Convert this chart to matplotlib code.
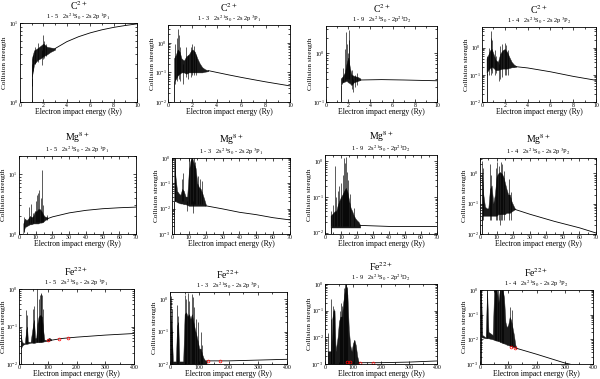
import matplotlib
matplotlib.use("Agg")
import matplotlib.pyplot as plt
from matplotlib.ticker import LogLocator, NullFormatter, MultipleLocator, AutoMinorLocator

plt.rcParams['font.family'] = ['Liberation Serif', 'DejaVu Serif']
plt.rcParams['mathtext.fontset'] = 'stix'

# --- labels ---
ions = [r'C$^{2+}$'] * 4 + [r'Mg$^{8+}$'] * 4 + [r'Fe$^{22+}$'] * 4
trans_one = [r'1 - 5   2s$^{2\,1}$S$_{0}$ - 2s 2p $^{1}$P$_{1}$',
             r'1 - 3   2s$^{2\,1}$S$_{0}$ - 2s 2p $^{3}$P$_{1}$',
             r'1 - 9   2s$^{2\,1}$S$_{0}$ - 2p$^{2\,1}$D$_{2}$',
             r'1 - 4   2s$^{2\,1}$S$_{0}$ - 2s 2p $^{3}$P$_{2}$']
trans = trans_one * 3

# --- axis ranges ---
xmax = [10] * 4 + [70] * 4 + [400] * 4
xstep = [2] * 4 + [10] * 4 + [100] * 4
ylims = [(1, 10), (0.01, 4), (0.1, 3.5), (0.01, 5.8),
         (1, 20), (1e-3, 1), (0.0092, 1.5), (0.01, 3.2),
         (0.01, 1), (0.01, 1.7), (1e-3, 1), (1e-3, 1)]

# --- threshold energies (Ry) ---
thr = [1.0, 0.5, 1.33, 0.4, 2.6, 1.3, 3.5, 1.3, 6, 2, 10, 2]

# --- smooth background above the resonance region ---
bg_e = [[3.0, 4, 5, 6, 7, 8, 9, 10],
        [3.3, 4, 5, 6, 7, 8, 9, 10],
        [3.1, 5, 7, 10],
        [3.0, 4, 6, 8, 10],
        [17, 20, 30, 40, 50, 60, 70],
        [20, 30, 40, 50, 60, 70],
        [22, 40, 70],
        [21, 30, 45, 60, 70],
        [112, 150, 200, 300, 400],
        [125, 200, 300, 400],
        [120, 200, 300, 400],
        [130, 200, 300, 400]]
bg_v = [[4.75, 5.8, 6.7, 7.5, 8.2, 8.8, 9.3, 9.75],
        [0.115, 0.1, 0.082, 0.068, 0.057, 0.048, 0.041, 0.035],
        [0.28, 0.285, 0.28, 0.27],
        [0.2, 0.18, 0.13, 0.088, 0.063],
        [1.8, 1.93, 2.25, 2.48, 2.64, 2.74, 2.81],
        [0.013, 0.0098, 0.0072, 0.0058, 0.0044, 0.0036],
        [0.016, 0.015, 0.015],
        [0.065, 0.045, 0.026, 0.016, 0.0108],
        [0.043, 0.048, 0.052, 0.059, 0.065],
        [0.0125, 0.0125, 0.0132, 0.014],
        [0.00112, 0.00112, 0.00118, 0.0013],
        [0.0043, 0.0025, 0.0011, 0.0006]]

# --- dense resonance band (energy, lower and upper envelope) ---
band_e = [[1.0, 1.2, 1.5, 1.8, 2.0, 2.3, 2.6, 3.0],
          [0.5, 0.65, 0.8, 0.95, 1.1, 1.3, 1.5, 1.7, 1.9, 2.0, 2.2, 2.4, 2.6, 2.8, 3.0, 3.3],
          [1.33, 1.5, 1.7, 1.85, 2.0, 2.15, 2.3, 2.5, 2.7, 2.9, 3.1],
          [0.4, 0.55, 0.7, 0.85, 1.0, 1.2, 1.4, 1.6, 1.8, 2.0, 2.2, 2.4, 2.6, 2.8, 3.0],
          [2.6, 3.5, 4.5, 5.5, 6.5, 7.5, 8.5, 9.5, 10.5, 11.5, 12.5, 13.5, 14.5, 15.5, 17],
          [1.3, 2, 3, 4, 5, 6, 7, 8, 9, 10, 11, 12, 13, 14, 15, 16, 17, 18, 19, 20],
          [3.5, 5, 6, 7, 8, 9, 10, 11, 12, 13, 14, 15, 16, 17, 18, 19, 20, 21, 22],
          [1.3, 2, 3, 4, 5, 6, 7, 8, 9, 10, 11, 12, 13, 14, 15, 16, 17, 18, 19, 20, 21],
          [6, 10, 15, 20, 25, 28, 31, 40, 48, 52, 56, 60, 64, 68, 72, 76, 80, 84, 88, 95, 105, 112],
          [2, 6, 10, 20, 24, 28, 32, 45, 50, 55, 60, 65, 70, 75, 80, 85, 90, 95, 100, 105, 110, 115, 120, 125],
          [10, 14, 18, 22, 26, 30, 34, 38, 45, 50, 55, 60, 65, 70, 75, 80, 85, 90, 95, 100, 105, 110, 115, 120],
          [2, 5, 8, 20, 25, 30, 45, 50, 55, 60, 65, 70, 75, 80, 85, 90, 95, 100, 105, 110, 115, 120, 125, 130]]
band_lo = [[2.0, 3.0, 3.4, 3.6, 3.8, 4.0, 4.3, 4.6],
           [0.05, 0.06, 0.08, 0.09, 0.1, 0.1, 0.09, 0.1, 0.1, 0.1, 0.1, 0.1, 0.1, 0.1, 0.105, 0.11],
           [0.22, 0.25, 0.26, 0.27, 0.25, 0.24, 0.22, 0.25, 0.26, 0.27, 0.28],
           [0.12, 0.15, 0.18, 0.2, 0.18, 0.15, 0.15, 0.16, 0.17, 0.17, 0.17, 0.18, 0.19, 0.19, 0.2],
           [1.05, 1.3, 1.35, 1.4, 1.45, 1.45, 1.5, 1.5, 1.5, 1.5, 1.55, 1.55, 1.6, 1.7, 1.8],
           [0.02, 0.02, 0.018, 0.017, 0.016, 0.016, 0.015, 0.015, 0.014, 0.013,
            0.013, 0.013, 0.013, 0.013, 0.013, 0.013, 0.013, 0.013, 0.013, 0.013],
           [0.014] * 19,
           [0.04, 0.04, 0.04, 0.04, 0.04, 0.04, 0.04, 0.04, 0.04, 0.04, 0.045,
            0.045, 0.045, 0.045, 0.045, 0.05, 0.05, 0.05, 0.055, 0.06, 0.065],
           [0.025, 0.03, 0.033, 0.034, 0.035, 0.035, 0.035, 0.037, 0.037, 0.037, 0.037,
            0.038, 0.038, 0.038, 0.038, 0.039, 0.039, 0.04, 0.04, 0.041, 0.042, 0.043],
           [0.0101] * 24,
           [0.00102] * 24,
           [0.013, 0.012, 0.012, 0.011, 0.011, 0.011, 0.01, 0.0095, 0.009, 0.0088, 0.0085, 0.008,
            0.0075, 0.007, 0.0068, 0.0065, 0.006, 0.0058, 0.0055, 0.0052, 0.005, 0.0048, 0.0045, 0.0043]]
band_hi = [[3.5, 4.5, 4.8, 5.2, 5.5, 5.0, 4.9, 4.8],
           [0.3, 0.4, 0.6, 0.5, 0.3, 0.25, 0.35, 0.4, 0.55, 0.6, 0.5, 0.3, 0.2, 0.15, 0.13, 0.115],
           [0.3, 0.33, 0.4, 0.6, 0.8, 0.5, 0.36, 0.34, 0.33, 0.32, 0.3],
           [0.4, 0.55, 0.8, 0.9, 0.6, 0.35, 0.3, 0.6, 0.8, 0.9, 0.7, 0.45, 0.3, 0.24, 0.21],
           [1.5, 1.8, 1.7, 1.8, 2.0, 1.9, 2.0, 2.4, 2.4, 2.6, 2.6, 2.4, 2.1, 1.95, 1.9],
           [1.0, 0.2, 0.05, 0.04, 0.035, 0.06, 0.05, 0.03, 0.03, 0.3,
            0.8, 1.0, 0.6, 0.4, 0.1, 0.07, 0.06, 0.04, 0.025, 0.015],
           [0.03, 0.035, 0.04, 0.04, 0.06, 0.08, 0.1, 0.12, 0.15, 0.18,
            0.14, 0.08, 0.05, 0.04, 0.03, 0.025, 0.022, 0.02, 0.016],
           [1.0, 0.2, 0.08, 0.07, 0.07, 0.3, 0.4, 0.1, 0.2, 0.8, 1.0,
            1.1, 1.0, 0.8, 0.5, 0.3, 0.2, 0.2, 0.12, 0.09, 0.07],
           [0.06, 0.04, 0.036, 0.036, 0.08, 0.1, 0.04, 0.038, 0.1, 0.15, 0.05,
            0.05, 0.12, 0.18, 0.2, 0.2, 0.18, 0.08, 0.045, 0.043, 0.05, 0.046],
           [0.3, 0.1, 0.012, 0.012, 0.15, 0.2, 0.012, 0.012, 0.35, 0.4, 0.3, 0.35,
            0.25, 0.35, 0.2, 0.12, 0.08, 0.05, 0.03, 0.03, 0.02, 0.015, 0.013, 0.0125],
           [0.003, 0.003, 0.003, 0.003, 0.05, 0.1, 0.1, 0.003, 0.01, 0.04, 0.06, 0.06,
            0.2, 0.5, 1.0, 0.4, 0.02, 0.005, 0.003, 0.006, 0.008, 0.005, 0.002, 0.0012],
           [1.0, 0.3, 0.015, 0.012, 1.0, 0.02, 0.015, 1.0, 1.0, 1.0, 0.3, 1.0,
            1.0, 1.0, 0.5, 0.05, 0.03, 0.04, 0.08, 0.06, 0.03, 0.015, 0.006, 0.0045]]

# --- isolated resonance spikes (energy, bottom, top) ---
spk_e = [[1.05, 1.1, 1.3, 1.55, 1.9, 2.0, 2.05, 2.2],
         [0.6, 0.75, 0.82, 0.88, 1.0, 1.2, 1.45, 1.6, 1.85, 2.0, 2.1, 2.3],
         [1.55, 1.7, 1.78, 1.85, 1.95, 2.05, 2.1, 2.3, 2.4, 2.6, 2.8],
         [0.45, 0.6, 0.75, 0.82, 0.9, 1.1, 1.25, 1.45, 1.6, 1.75, 2.0, 2.1, 2.3],
         [3.2, 6.0, 7.0, 8.2, 10.0, 10.8, 11.5, 12.2, 13.0, 13.6, 14.2, 16.5],
         [1.5, 1.8, 6.2, 6.6, 9.0, 10.2, 11, 12, 12.5, 13, 13.6, 15.5, 16.5, 17.5],
         [4.0, 5.2, 6.0, 7.0, 8.0, 9.0, 10.0, 11.0, 12.0, 12.5, 13.0, 13.5, 14.5, 15.5, 18],
         [1.5, 1.8, 6.2, 6.8, 9.5, 10.5, 11.5, 12.0, 12.5, 13.5, 14.5, 17.5, 18.5],
         [6, 26, 29, 50, 52, 62, 70, 73, 76, 78, 80, 82],
         [3, 6, 25, 27, 52, 55, 62, 65, 75, 78, 82, 90, 95, 105, 110],
         [12, 20, 22, 30, 32, 52, 56, 60, 68, 72, 76, 79, 104],
         [3, 25, 52, 57, 62, 72, 78, 83, 105, 112]]
spk_lo = [[1.6, 2.5, 3.0, 3.2, 2.9, 3.5, 3.6, 3.8],
          [0.04, 0.05, 0.08, 0.06, 0.05, 0.04, 0.07, 0.06, 0.07, 0.08, 0.08, 0.08],
          [0.25, 0.28, 0.3, 0.3, 0.3, 0.3, 0.3, 0.18, 0.16, 0.2, 0.22],
          [0.1, 0.1, 0.1, 0.15, 0.12, 0.1, 0.12, 0.06, 0.07, 0.08, 0.1, 0.1, 0.1],
          [1.1, 1.5, 1.5, 1.5, 1.6, 1.6, 1.6, 1.6, 1.6, 1.6, 1.6, 1.7],
          [0.02, 0.02, 0.02, 0.02, 0.008, 0.015, 0.015, 0.015, 0.007, 0.015, 0.015, 0.015, 0.015, 0.015],
          [0.015] * 15,
          [0.03, 0.03, 0.03, 0.03, 0.03, 0.03, 0.03, 0.02, 0.03, 0.03, 0.03, 0.03, 0.03],
          [0.025, 0.035, 0.035, 0.037, 0.037, 0.038, 0.038, 0.038, 0.038, 0.038, 0.039, 0.039],
          [0.01] * 15,
          [0.001] * 13,
          [0.012, 0.011, 0.0095, 0.009, 0.0088, 0.008, 0.0075, 0.007, 0.0055, 0.005]]
spk_hi = [[3.0, 3.9, 5.0, 5.6, 4.5, 7.0, 6.0, 5.4],
          [0.9, 1.5, 3.0, 1.8, 0.7, 0.2, 0.75, 0.4, 0.7, 0.9, 0.8, 0.4],
          [0.5, 1.2, 2.6, 1.5, 1.0, 2.9, 1.8, 0.45, 0.3, 0.35, 0.38],
          [0.5, 1.0, 2.2, 4.3, 2.0, 0.8, 0.5, 0.25, 1.2, 1.4, 1.5, 1.3, 0.8],
          [1.9, 2.8, 3.2, 2.2, 3.6, 4.4, 4.8, 5.5, 4.0, 11.5, 3.0, 2.1],
          [1.0, 1.0, 0.15, 0.25, 0.02, 1.0, 1.0, 1.0, 0.02, 1.0, 0.7, 0.2, 0.15, 0.12],
          [0.04, 0.06, 0.75, 0.1, 0.15, 0.2, 0.25, 0.4, 1.2, 0.9, 1.3, 0.5, 0.3, 0.12, 0.05],
          [2.6, 1.5, 2.0, 0.9, 1.5, 2.3, 1.8, 0.05, 2.4, 2.0, 1.2, 0.65, 0.25],
          [0.085, 0.28, 0.2, 0.3, 0.35, 1.0, 0.55, 0.7, 0.75, 0.78, 0.7, 0.3],
          [1.3, 0.5, 0.65, 0.3, 1.4, 1.0, 1.6, 0.9, 1.5, 1.2, 0.6, 0.25, 0.2, 0.1, 0.04],
          [0.014, 0.28, 0.05, 0.15, 0.12, 0.1, 0.2, 0.15, 0.7, 1.0, 1.0, 0.8, 0.008],
          [1.0, 1.0, 1.0, 1.0, 1.0, 1.0, 1.0, 1.0, 0.2, 0.15]]

# --- red comparison points (Fe panels) ---
red_e = [[]] * 8 + [[100, 140, 170], [130, 170], [80, 90, 125, 170], [110, 125]]
red_v = [[]] * 8 + [[0.044, 0.047, 0.05], [0.0125, 0.0125], [0.0012, 0.0012, 0.0011, 0.0011], [0.005, 0.0045]]

# axes boxes in pixels: left, top, right, bottom
boxes = [(20, 23, 137, 102), (168, 25, 290, 102), (326, 26, 437, 102), (482, 27, 596, 102),
         (19, 156, 136, 234), (172, 158, 290, 234), (325, 155, 437, 234), (480, 158, 596, 234),
         (19, 289, 134, 364), (170, 292, 287, 364), (325, 284, 437, 364), (480, 290, 593, 364)]

W, H = 600, 379
fig = plt.figure(figsize=(W / 100, H / 100), dpi=100)

for i in range(12):
    l, t, r, b = boxes[i]
    ax = fig.add_axes([l / W, 1 - b / H, (r - l) / W, (b - t) / H])
    ax.set_yscale('log')

    ax.fill_between(band_e[i], band_lo[i], band_hi[i], color='0.1', lw=0.3)
    ax.vlines(spk_e[i], spk_lo[i], spk_hi[i], color='black', lw=0.45)
    ax.vlines(thr[i], ylims[i][0], band_lo[i][0], color='black', lw=0.6)
    ax.plot(bg_e[i], bg_v[i], color='black', lw=0.6)
    if red_e[i]:
        ax.plot(red_e[i], red_v[i], 'o', mfc='none', mec='red', ms=2, mew=0.5)

    ax.set_xlim(0, xmax[i])
    ax.set_ylim(*ylims[i])
    ax.xaxis.set_major_locator(MultipleLocator(xstep[i]))
    ax.xaxis.set_minor_locator(AutoMinorLocator(2))
    ax.yaxis.set_major_locator(LogLocator(base=10))
    ax.yaxis.set_minor_formatter(NullFormatter())
    ax.tick_params(which='both', direction='in', top=True, right=True,
                   labelsize=4.2, pad=1, width=0.5)
    ax.tick_params(which='major', length=2.5)
    ax.tick_params(which='minor', length=1.2)
    for s in ax.spines.values():
        s.set_linewidth(0.6)

    ax.set_xlabel('Electron impact energy (Ry)', fontsize=5.5, labelpad=0)
    ax.set_ylabel('Collision strength', fontsize=5.2)
    ax.yaxis.set_label_coords(-13.0 / (r - l), 0.5)

    ax.annotate(ions[i], xy=(0.5, 1), xycoords='axes fraction', xytext=(0, 8),
                textcoords='offset points', ha='center', va='bottom', fontsize=7)
    ax.annotate(trans[i], xy=(0.5, 1), xycoords='axes fraction', xytext=(0, 0.8),
                textcoords='offset points', ha='center', va='bottom', fontsize=4.6)

fig.savefig('out.png', dpi=100)
